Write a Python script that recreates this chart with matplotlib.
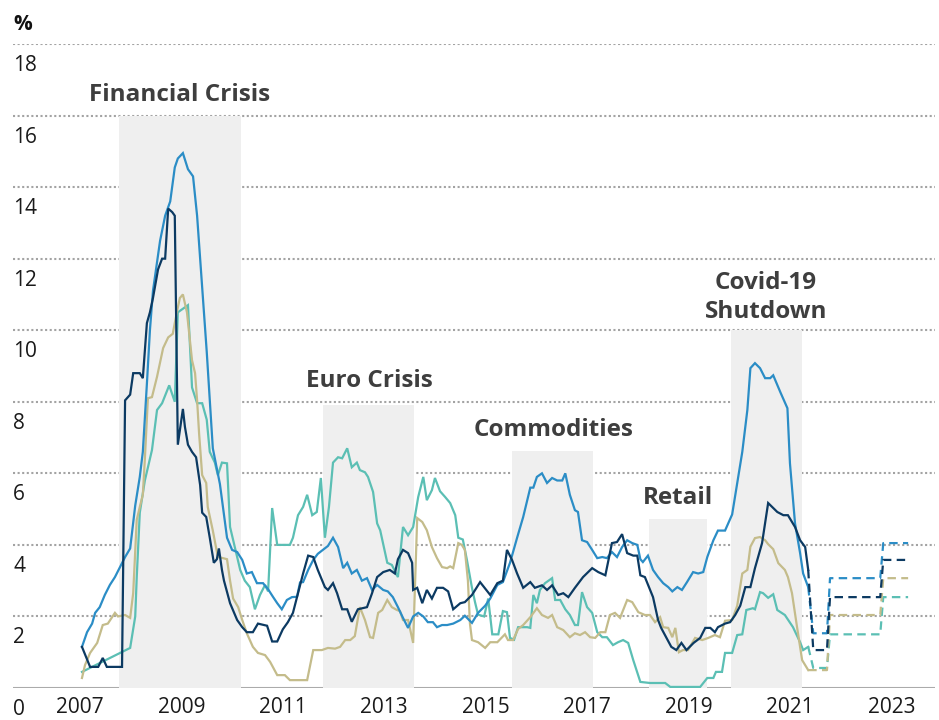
import matplotlib
matplotlib.use("Agg")
import matplotlib.pyplot as plt
from matplotlib import transforms

plt.rcParams['font.family'] = ['Open Sans', 'DejaVu Sans']

# dark navy series
dark_x = [2007.04, 2007.20, 2007.36, 2007.45, 2007.53, 2007.83, 2007.89, 2007.99, 2008.05, 2008.18,
          2008.24, 2008.32, 2008.38, 2008.44, 2008.54, 2008.62, 2008.68, 2008.74, 2008.82, 2008.87,
          2008.93, 2009.03, 2009.07, 2009.13, 2009.21, 2009.29, 2009.37, 2009.41, 2009.49, 2009.56,
          2009.64, 2009.70, 2009.74, 2009.80, 2009.84, 2009.96, 2010.10, 2010.20, 2010.29, 2010.41,
          2010.51, 2010.69, 2010.79, 2010.89, 2011.00, 2011.10, 2011.20, 2011.30, 2011.40, 2011.50,
          2011.60, 2011.69, 2011.83, 2011.89, 2011.99, 2012.07, 2012.17, 2012.27, 2012.36, 2012.48,
          2012.66, 2012.76, 2012.86, 2012.98, 2013.11, 2013.21, 2013.27, 2013.37, 2013.47, 2013.55,
          2013.57, 2013.65, 2013.75, 2013.84, 2013.94, 2014.04, 2014.16, 2014.26, 2014.36, 2014.50,
          2014.59, 2014.73, 2014.89, 2015.09, 2015.23, 2015.34, 2015.42, 2015.52, 2015.62, 2015.74,
          2015.88, 2015.97, 2016.11, 2016.21, 2016.31, 2016.43, 2016.53, 2016.63, 2016.76, 2016.92,
          2017.10, 2017.22, 2017.36, 2017.49, 2017.59, 2017.69, 2017.79, 2017.91, 2017.99, 2018.05,
          2018.14, 2018.30, 2018.40, 2018.46, 2018.66, 2018.76, 2018.86, 2018.96, 2019.10, 2019.23,
          2019.33, 2019.43, 2019.52, 2019.58, 2019.72, 2019.82, 2019.92, 2020.02, 2020.12, 2020.22,
          2020.31, 2020.45, 2020.57, 2020.75, 2020.87, 2020.96, 2021.10, 2021.20, 2021.30, 2021.36]
dark_y = [1.15, 0.59, 0.59, 0.84, 0.59, 0.59, 8.04, 8.2, 8.8, 8.8,
          8.66, 10.2, 10.5, 10.9, 11.7, 12.0, 12.0, 13.4, 13.3, 13.2,
          6.8, 7.8, 7.3, 6.8, 6.6, 6.45, 5.67, 4.9, 4.78, 4.2,
          3.5, 3.6, 3.9, 3.3, 3.0, 2.37, 1.9, 1.7, 1.56, 1.56,
          1.8, 1.74, 1.3, 1.3, 1.64, 1.84, 2.1, 2.65, 3.2, 3.7,
          3.66, 3.3, 2.82, 2.74, 2.93, 2.65, 2.2, 2.2, 1.85, 2.2,
          2.26, 2.65, 3.1, 3.24, 3.3, 3.2, 3.6, 3.86, 3.77, 3.5,
          2.74, 2.8, 2.37, 2.74, 2.5, 2.8, 2.8, 2.7, 2.2, 2.37,
          2.4, 2.6, 2.96, 2.6, 2.93, 3.0, 3.86, 3.58, 3.2, 2.8,
          2.96, 2.8, 2.87, 2.74, 2.87, 2.6, 2.65, 2.54, 2.8, 3.1,
          3.35, 3.24, 3.15, 4.05, 4.08, 4.3, 3.77, 3.7, 3.7, 3.15,
          3.1, 2.54, 1.9, 1.68, 1.15, 1.06, 1.26, 1.06, 1.26, 1.4,
          1.68, 1.68, 1.56, 1.7, 1.8, 1.84, 2.04, 2.3, 2.82, 2.82,
          3.35, 4.05, 5.17, 4.92, 4.83, 4.83, 4.5, 4.13, 3.94, 3.3]

# medium blue series
blue_x = [2007.04, 2007.14, 2007.24, 2007.30, 2007.39, 2007.49, 2007.59, 2007.69, 2007.79, 2007.89,
          2007.99, 2008.09, 2008.18, 2008.24, 2008.32, 2008.38, 2008.44, 2008.58, 2008.68, 2008.78,
          2008.87, 2008.93, 2009.03, 2009.13, 2009.23, 2009.31, 2009.37, 2009.43, 2009.50, 2009.56,
          2009.62, 2009.76, 2009.90, 2010.00, 2010.10, 2010.20, 2010.29, 2010.39, 2010.49, 2010.61,
          2010.71, 2010.81, 2010.89, 2010.98, 2011.08, 2011.18, 2011.28, 2011.34, 2011.40, 2011.50,
          2011.60, 2011.69, 2011.79, 2011.89, 2011.99, 2012.09, 2012.19, 2012.27, 2012.36, 2012.46,
          2012.56, 2012.66, 2012.76, 2012.86, 2012.98, 2013.07, 2013.17, 2013.27, 2013.37, 2013.47,
          2013.57, 2013.67, 2013.77, 2013.86, 2013.96, 2014.04, 2014.14, 2014.24, 2014.36, 2014.50,
          2014.59, 2014.73, 2014.85, 2014.99, 2015.09, 2015.23, 2015.34, 2015.48, 2015.62, 2015.74,
          2015.88, 2015.94, 2016.01, 2016.11, 2016.21, 2016.31, 2016.41, 2016.51, 2016.57, 2016.66,
          2016.76, 2016.82, 2016.90, 2017.00, 2017.10, 2017.20, 2017.30, 2017.39, 2017.49, 2017.59,
          2017.69, 2017.79, 2017.89, 2017.99, 2018.05, 2018.10, 2018.20, 2018.30, 2018.40, 2018.50,
          2018.60, 2018.68, 2018.78, 2018.87, 2018.97, 2019.09, 2019.19, 2019.29, 2019.37, 2019.49,
          2019.58, 2019.72, 2019.86, 2019.96, 2020.06, 2020.16, 2020.22, 2020.31, 2020.41, 2020.51,
          2020.61, 2020.67, 2020.81, 2020.95, 2021.00, 2021.10, 2021.20, 2021.26, 2021.36]
blue_y = [1.15, 1.56, 1.8, 2.1, 2.26, 2.6, 2.88, 3.1, 3.38, 3.66,
          3.9, 5.1, 5.9, 6.6, 8.5, 10.0, 11.1, 12.5, 13.2, 13.6,
          14.55, 14.8, 14.95, 14.5, 14.3, 13.2, 12.0, 10.8, 9.4, 8.04,
          6.7, 5.7, 4.2, 3.86, 3.8, 3.58, 3.2, 3.24, 2.93, 2.93,
          2.76, 2.54, 2.37, 2.2, 2.46, 2.54, 2.55, 2.95, 2.96, 3.3,
          3.58, 3.75, 3.86, 3.97, 4.2, 3.94, 3.35, 3.5, 3.2, 3.3,
          3.0, 3.07, 2.74, 2.88, 2.74, 2.7, 2.54, 2.26, 1.96, 1.68,
          2.0, 2.1, 2.0, 1.84, 1.84, 1.7, 1.76, 1.76, 1.8, 1.9,
          2.02, 1.82, 2.1, 2.3, 2.5, 2.88, 2.96, 3.5, 4.2, 4.78,
          5.6, 5.6, 5.9, 6.0, 5.73, 5.87, 5.8, 5.8, 6.0, 5.4,
          4.97, 4.92, 4.13, 4.08, 3.86, 3.63, 3.66, 3.63, 3.8, 3.66,
          3.94, 4.13, 4.05, 4.0, 3.6, 3.52, 3.7, 3.3, 3.1, 2.93,
          2.82, 2.7, 2.82, 2.74, 2.96, 3.24, 3.2, 3.24, 3.66, 4.13,
          4.4, 4.4, 4.85, 5.73, 6.6, 7.77, 8.94, 9.08, 8.94, 8.66,
          8.66, 8.74, 8.27, 7.82, 6.28, 4.6, 3.77, 3.2, 2.82]

# teal series
teal_x = [2007.04, 2007.99, 2008.09, 2008.12, 2008.18, 2008.28, 2008.42, 2008.52, 2008.62, 2008.76,
          2008.87, 2008.93, 2009.03, 2009.13, 2009.21, 2009.31, 2009.41, 2009.50, 2009.56, 2009.66,
          2009.72, 2009.80, 2009.90, 2009.96, 2010.06, 2010.16, 2010.25, 2010.35, 2010.45, 2010.55,
          2010.65, 2010.71, 2010.79, 2010.89, 2011.14, 2011.20, 2011.30, 2011.40, 2011.48, 2011.58,
          2011.67, 2011.75, 2011.83, 2011.91, 2011.99, 2012.09, 2012.17, 2012.27, 2012.36, 2012.46,
          2012.52, 2012.62, 2012.68, 2012.78, 2012.86, 2012.92, 2013.06, 2013.15, 2013.27, 2013.37,
          2013.47, 2013.57, 2013.67, 2013.77, 2013.84, 2013.94, 2014.00, 2014.10, 2014.20, 2014.30,
          2014.40, 2014.46, 2014.55, 2014.63, 2014.73, 2014.79, 2014.85, 2014.97, 2015.05, 2015.13,
          2015.25, 2015.34, 2015.42, 2015.48, 2015.56, 2015.64, 2015.82, 2015.88, 2015.94, 2016.01,
          2016.07, 2016.17, 2016.31, 2016.37, 2016.47, 2016.57, 2016.66, 2016.76, 2016.82, 2016.90,
          2017.00, 2017.10, 2017.20, 2017.30, 2017.39, 2017.51, 2017.61, 2017.71, 2017.81, 2017.91,
          2018.05, 2018.24, 2018.54, 2018.64, 2019.23, 2019.37, 2019.49, 2019.54, 2019.66, 2019.72,
          2019.86, 2019.96, 2020.06, 2020.14, 2020.27, 2020.31, 2020.41, 2020.47, 2020.57, 2020.67,
          2020.75, 2020.90, 2021.06, 2021.20, 2021.26, 2021.36]
teal_y = [0.45, 1.12, 2.0, 3.1, 4.9, 5.8, 6.65, 7.77, 7.96, 8.46,
          8.0, 10.5, 10.6, 10.7, 8.4, 7.96, 7.96, 7.5, 6.6, 6.3,
          5.95, 6.3, 6.28, 4.5, 3.9, 3.3, 3.0, 2.82, 2.2, 2.6,
          2.88, 2.7, 5.03, 4.0, 4.0, 4.2, 4.83, 5.06, 5.4, 4.83,
          4.92, 5.87, 4.2, 5.06, 6.3, 6.45, 6.42, 6.7, 6.17, 6.3,
          6.09, 6.03, 5.9, 5.48, 4.6, 4.41, 3.5, 3.44, 3.1, 4.5,
          4.27, 4.5, 5.34, 5.9, 5.25, 5.53, 5.87, 5.5, 5.34, 5.17,
          4.83, 4.2, 4.15, 3.58, 2.8, 2.4, 2.05, 2.0, 2.5, 1.5,
          1.5, 2.15, 2.12, 1.4, 1.35, 1.7, 1.7, 1.68, 2.6, 2.37,
          2.74, 2.93, 3.07, 2.46, 2.46, 2.2, 2.04, 1.76, 1.76, 2.68,
          2.26, 2.1, 1.56, 1.42, 1.42, 1.2, 1.28, 1.34, 1.26, 0.78,
          0.17, 0.14, 0.14, 0.03, 0.03, 0.28, 0.28, 0.45, 0.45, 0.98,
          0.98, 1.48, 1.5, 2.18, 2.23, 2.2, 2.68, 2.65, 2.52, 2.62,
          2.18, 2.04, 1.7, 1.28, 1.06, 1.15]

# khaki series
khaki_x = [2007.04, 2007.10, 2007.20, 2007.34, 2007.45, 2007.55, 2007.69, 2007.75, 2007.89, 2007.99,
           2008.05, 2008.12, 2008.18, 2008.24, 2008.28, 2008.34, 2008.42, 2008.52, 2008.64, 2008.74,
           2008.83, 2008.91, 2008.97, 2009.03, 2009.11, 2009.21, 2009.27, 2009.31, 2009.35, 2009.41,
           2009.49, 2009.52, 2009.62, 2009.72, 2009.82, 2009.90, 2009.96, 2010.02, 2010.12, 2010.20,
           2010.29, 2010.41, 2010.51, 2010.65, 2010.75, 2010.89, 2011.04, 2011.14, 2011.48, 2011.60,
           2011.77, 2011.89, 2012.03, 2012.13, 2012.23, 2012.33, 2012.42, 2012.52, 2012.62, 2012.72,
           2012.78, 2012.88, 2012.96, 2013.06, 2013.15, 2013.25, 2013.31, 2013.37, 2013.47, 2013.57,
           2013.65, 2013.75, 2013.84, 2013.94, 2014.04, 2014.14, 2014.24, 2014.30, 2014.36, 2014.46,
           2014.53, 2014.59, 2014.65, 2014.69, 2014.73, 2014.85, 2014.99, 2015.09, 2015.23, 2015.38,
           2015.44, 2015.54, 2015.64, 2015.74, 2015.88, 2016.01, 2016.11, 2016.23, 2016.31, 2016.41,
           2016.53, 2016.66, 2016.76, 2016.86, 2016.96, 2017.06, 2017.16, 2017.26, 2017.36, 2017.45,
           2017.55, 2017.65, 2017.79, 2017.89, 2018.01, 2018.14, 2018.24, 2018.34, 2018.44, 2018.50,
           2018.60, 2018.68, 2018.74, 2018.81, 2018.89, 2018.99, 2019.13, 2019.27, 2019.39, 2019.52,
           2019.62, 2019.72, 2019.86, 2019.96, 2020.06, 2020.16, 2020.22, 2020.31, 2020.41, 2020.51,
           2020.57, 2020.67, 2020.77, 2020.90, 2020.96, 2021.04, 2021.14, 2021.24, 2021.36]
khaki_y = [0.28, 0.64, 0.98, 1.26, 1.76, 1.8, 2.1, 2.0, 2.04, 1.96,
           2.65, 4.7, 5.06, 5.4, 6.4, 8.1, 8.13, 8.7, 9.5, 9.8,
           9.9, 10.5, 10.9, 11.0, 10.5, 9.16, 8.8, 8.04, 7.1, 5.95,
           5.73, 5.06, 4.4, 3.66, 3.63, 3.6, 3.0, 2.5, 2.26, 1.9,
           1.53, 1.15, 0.98, 0.92, 0.73, 0.36, 0.36, 0.22, 0.22, 1.06,
           1.06, 1.12, 1.1, 1.15, 1.34, 1.34, 1.45, 2.26, 1.9, 1.42,
           1.4, 2.1, 2.18, 2.46, 2.26, 2.18, 2.15, 1.9, 1.9, 1.26,
           4.75, 4.64, 4.41, 3.94, 3.63, 3.38, 3.35, 3.4, 3.35, 4.05,
           4.0, 3.86, 3.0, 1.8, 1.34, 1.28, 1.12, 1.28, 1.28, 1.5,
           1.34, 1.34, 1.65, 1.76, 1.98, 2.23, 2.04, 1.96, 2.04, 1.7,
           1.62, 1.42, 1.53, 1.48, 1.56, 1.42, 1.4, 1.56, 1.56, 2.04,
           2.1, 1.96, 2.46, 2.4, 2.12, 2.04, 2.04, 1.84, 1.98, 1.7,
           1.68, 1.42, 1.68, 1.0, 1.06, 1.06, 1.4, 1.34, 1.4, 1.48,
           1.42, 1.88, 1.9, 2.3, 3.2, 3.3, 3.95, 4.19, 4.22, 4.13,
           4.02, 3.88, 3.49, 3.3, 3.1, 2.65, 1.7, 0.78, 0.5]

# projections (dashed)
proj_x = [2021.36, 2021.46, 2021.73, 2021.79, 2022.78, 2022.84, 2023.33]
dark_proj = [3.3, 1.06, 1.06, 2.54, 2.54, 3.58, 3.58]
blue_proj = [2.82, 1.53, 1.53, 3.07, 3.07, 4.05, 4.05]
khaki_proj = [0.5, 0.5, 0.5, 2.04, 2.04, 3.07, 3.07]
teal_proj = [1.15, 0.56, 0.56, 1.5, 1.5, 2.54, 2.54]

# shaded episodes
episodes = ['Financial Crisis', 'Euro Crisis', 'Commodities', 'Retail', 'Covid-19\nShutdown']
ep_start = [2007.77, 2011.80, 2015.52, 2018.22, 2019.84]
ep_end = [2010.17, 2013.59, 2017.11, 2019.36, 2021.23]
ep_top = [16.0, 7.9, 6.62, 4.71, 10.0]

years = [2007, 2009, 2011, 2013, 2015, 2017, 2019, 2021, 2023]
yticks = [0, 2, 4, 6, 8, 10, 12, 14, 16, 18]

c_dark = '#0c3a62'
c_blue = '#2b8dc6'
c_teal = '#5bbfb4'
c_khaki = '#c4bc8b'

fig = plt.figure(figsize=(9.39, 7.2), dpi=100)
ax = fig.add_axes([13 / 939, 32 / 720, 922 / 939, 644 / 720])
ax.set_xlim(2005.68, 2023.86)
ax.set_ylim(0, 18)
for s in ax.spines.values():
    s.set_visible(False)

# grid
for v in yticks[1:]:
    ax.axhline(v, color='#a3a3a3', lw=1.5, linestyle=(0, (1, 1.2)), zorder=1)
ax.axhline(0, color='#ababab', lw=1.5, zorder=1)

# shading
ax.bar(ep_start, ep_top, width=[e - s for s, e in zip(ep_start, ep_end)],
       align='edge', color='#efefef', zorder=2)

for xs, ys, c in [(teal_x, teal_y, c_teal), (khaki_x, khaki_y, c_khaki),
                  (blue_x, blue_y, c_blue), (dark_x, dark_y, c_dark)]:
    ax.plot(xs, ys, color=c, lw=1.6, zorder=4, solid_joinstyle='miter')

for ys, c in [(teal_proj, c_teal), (khaki_proj, c_khaki),
              (blue_proj, c_blue), (dark_proj, c_dark)]:
    ax.plot(proj_x, ys, color=c, lw=1.6, linestyle=(0, (3.8, 2.4)), zorder=4)

# episode labels
lab_x = [2008.97, 2012.70, 2016.33, 2018.79, 2020.53]
lab_y = [16.4, 8.41, 7.04, 5.14, 10.34]
for name, lx, ly in zip(episodes, lab_x, lab_y):
    ax.text(lx, ly, name, ha='center', va='baseline', fontsize=17.5,
            fontweight='bold', color='#3e3e3e', linespacing=1.3, zorder=5)

# y labels below gridlines, inside plot
ytrans = transforms.offset_copy(ax.get_yaxis_transform(), fig=fig, x=0, y=-27, units='dots')
for v in yticks:
    ax.text(0, v, str(v), transform=ytrans, ha='left', va='baseline',
            fontsize=15, color='#1a1a1a')
ax.set_yticks([])

ax.set_xticks(years)
ax.set_xticklabels([str(y) for y in years], fontsize=15, color='#1a1a1a')
ax.tick_params(axis='x', length=0, pad=6.5)

fig.text(13 / 939, 1 - 25 / 720, '%', ha='left', va='center', fontsize=15,
         fontweight='bold', color='#111111')

fig.savefig('out.png', dpi=100)
